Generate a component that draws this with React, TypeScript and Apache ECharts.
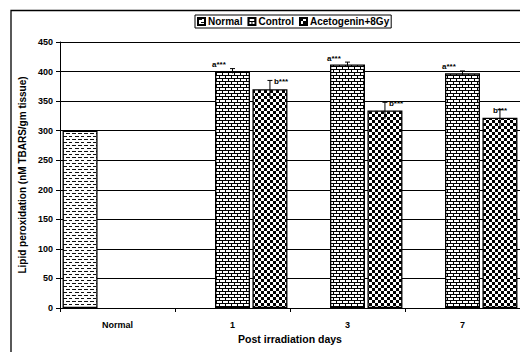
import React, { useEffect, useRef } from 'react';
import * as echarts from 'echarts';

const categories = ['Normal', '1', '3', '7'];
const seriesNames = ['Normal', 'Control', 'Acetogenin+8Gy'];
const normalValues: (number | null)[] = [300, null, null, null];
const controlValues: (number | null)[] = [null, 401, 412, 397];
const controlErrors: (number | null)[] = [null, 4, 4, 4];
const acetoValues: (number | null)[] = [null, 370, 334, 322];
const acetoErrors: (number | null)[] = [null, 15, 14, 14];
const controlLabels: (string | null)[] = [null, 'a***', 'a***', 'a***'];
const acetoLabels: (string | null)[] = [null, 'b***', 'b***', 'b***'];
const yMin = 0;
const yMax = 450;
const yStep = 50;

const FONT = '"Liberation Sans", Arial, sans-serif';
const BAR_W = 35;
const GAP_RATIO = 0.07;
const SLOT = BAR_W * (1 + GAP_RATIO);

function makePattern(w: number, h: number, draw: (ctx: CanvasRenderingContext2D) => void) {
  const c = document.createElement('canvas');
  c.width = w;
  c.height = h;
  const ctx = c.getContext('2d')!;
  ctx.fillStyle = '#fff';
  ctx.fillRect(0, 0, w, h);
  ctx.fillStyle = '#000';
  draw(ctx);
  return { image: c, repeat: 'repeat', imageWidth: w, imageHeight: h } as any;
}

export default function App() {
  const ref = useRef<HTMLDivElement>(null);
  useEffect(() => {
    if (!ref.current) return;
    const chart = echarts.init(ref.current, undefined, { renderer: 'svg' });

    const dashPat = makePattern(12, 6, (ctx) => {
      ctx.fillStyle = '#111';
      ctx.fillRect(0, 1, 4, 1);
      ctx.fillRect(6, 1, 4, 1);
      ctx.fillRect(3, 4, 4, 1);
      ctx.fillRect(9, 4, 3, 1);
    });
    const brickPat = makePattern(6, 6, (ctx) => {
      ctx.fillRect(0, 0, 6, 1);
      ctx.fillRect(0, 3, 6, 1);
      ctx.fillRect(0, 1, 1, 2);
      ctx.fillRect(3, 4, 1, 2);
    });
    const checkPat = makePattern(6, 6, (ctx) => {
      ctx.fillRect(0, 0, 3, 3);
      ctx.fillRect(3, 3, 3, 3);
    });

    const toData = (arr: (number | null)[]) => arr.map((v) => (v == null ? '-' : v));

    const errData = (vals: (number | null)[], errs: (number | null)[]) =>
      vals
        .map((v, i) => (v == null ? null : [i, v, errs[i] ?? 0]))
        .filter((d) => d != null) as number[][];

    const makeRender = (slot: number, labels: (string | null)[], kind: 'a' | 'b') =>
      (params: any, api: any) => {
        const ci = api.value(0);
        const v = api.value(1);
        const e = api.value(2);
        const base = api.coord([ci, v]);
        const top = api.coord([ci, v + e]);
        const x = base[0] + slot * SLOT;
        const children: any[] = [
          { type: 'line', shape: { x1: x, y1: top[1], x2: x, y2: api.coord([ci, v - e])[1] }, style: { stroke: '#000', lineWidth: 1 } },
          { type: 'line', shape: { x1: x - 2.5, y1: top[1], x2: x + 2.5, y2: top[1] }, style: { stroke: '#000', lineWidth: 1 } },
        ];
        const lab = labels[ci];
        if (lab) {
          if (kind === 'a') {
            children.push({
              type: 'text',
              style: { text: lab, x: x - BAR_W / 2 - 3, y: top[1] - 4, textAlign: 'left', textVerticalAlign: 'middle', fontSize: 8, fontWeight: 'bold', fontFamily: FONT, fill: '#000' },
            });
          } else {
            const tx = Math.min(x + 4, api.getWidth() - 27);
            children.push({
              type: 'text',
              style: { text: lab, x: tx, y: top[1] + 1, textAlign: 'left', textVerticalAlign: 'middle', fontSize: 8, fontWeight: 'bold', fontFamily: FONT, fill: '#000' },
            });
          }
        }
        return { type: 'group', children };
      };

    chart.setOption({
      animation: false,
      backgroundColor: '#fff',
      textStyle: { fontFamily: FONT },
      graphic: [
        { type: 'rect', shape: { x: 11, y: 10.5, width: 560, height: 400 }, style: { fill: 'none', stroke: '#000', lineWidth: 1.3 }, silent: true, z: 0 },
      ],
      legend: {
        data: seriesNames,
        left: 195,
        top: 15,
        orient: 'horizontal',
        icon: 'rect',
        itemWidth: 7,
        itemHeight: 7,
        itemGap: 5,
        padding: [1, 2, 1, 2],
        borderColor: '#000',
        borderWidth: 1,
        textStyle: { fontSize: 10, fontWeight: 'bold', fontFamily: FONT, color: '#000', padding: [0, 0, 0, -2], lineHeight: 11 },
      },
      grid: { left: 60, top: 42, right: -5, bottom: 44, containLabel: false },
      xAxis: {
        type: 'category',
        data: categories,
        name: 'Post irradiation days',
        nameLocation: 'middle',
        nameGap: 25,
        nameTextStyle: { fontSize: 10.5, fontWeight: 'bold', fontFamily: FONT, color: '#000' },
        axisLine: { lineStyle: { color: '#000', width: 1 } },
        axisTick: { show: true, length: 4, alignWithLabel: false, lineStyle: { color: '#000' } },
        axisLabel: { fontSize: 9, fontWeight: 'bold', fontFamily: FONT, color: '#000', margin: 12 },
      },
      yAxis: {
        type: 'value',
        min: yMin,
        max: yMax,
        interval: yStep,
        name: 'Lipid peroxidation (nM TBARS/gm tissue)',
        nameLocation: 'middle',
        nameGap: 22,
        nameTextStyle: { fontSize: 10, fontWeight: 'bold', fontFamily: FONT, color: '#000' },
        axisLine: { show: true, lineStyle: { color: '#000', width: 1 } },
        axisTick: { show: true, length: 4, lineStyle: { color: '#000' } },
        axisLabel: { fontSize: 9, fontWeight: 'bold', fontFamily: FONT, color: '#000', margin: 7 },
        splitLine: { show: true, lineStyle: { color: '#000', width: 1 } },
      },
      series: [
        {
          name: seriesNames[0], type: 'bar', data: toData(normalValues), barWidth: BAR_W, barGap: `${GAP_RATIO * 100}%`,
          itemStyle: { color: dashPat, borderColor: '#000', borderWidth: 1.3 },
        },
        {
          name: seriesNames[1], type: 'bar', data: toData(controlValues), barWidth: BAR_W, barGap: `${GAP_RATIO * 100}%`,
          itemStyle: { color: brickPat, borderColor: '#000', borderWidth: 1.3 },
        },
        {
          name: seriesNames[2], type: 'bar', data: toData(acetoValues), barWidth: BAR_W, barGap: `${GAP_RATIO * 100}%`,
          itemStyle: { color: checkPat, borderColor: '#000', borderWidth: 1.3 },
        },
        {
          type: 'custom', name: 'errControl', data: errData(controlValues, controlErrors),
          encode: { x: 0, y: 1 }, renderItem: makeRender(0, controlLabels, 'a'), z: 5, silent: true,
        },
        {
          type: 'custom', name: 'errAceto', data: errData(acetoValues, acetoErrors),
          encode: { x: 0, y: 1 }, renderItem: makeRender(1, acetoLabels, 'b'), z: 5, silent: true,
        },
      ],
    });
    return () => chart.dispose();
  }, []);
  return <div ref={ref} style={{ position: 'absolute', left: 0, top: 0, width: 520, height: 352 }} />;
}
